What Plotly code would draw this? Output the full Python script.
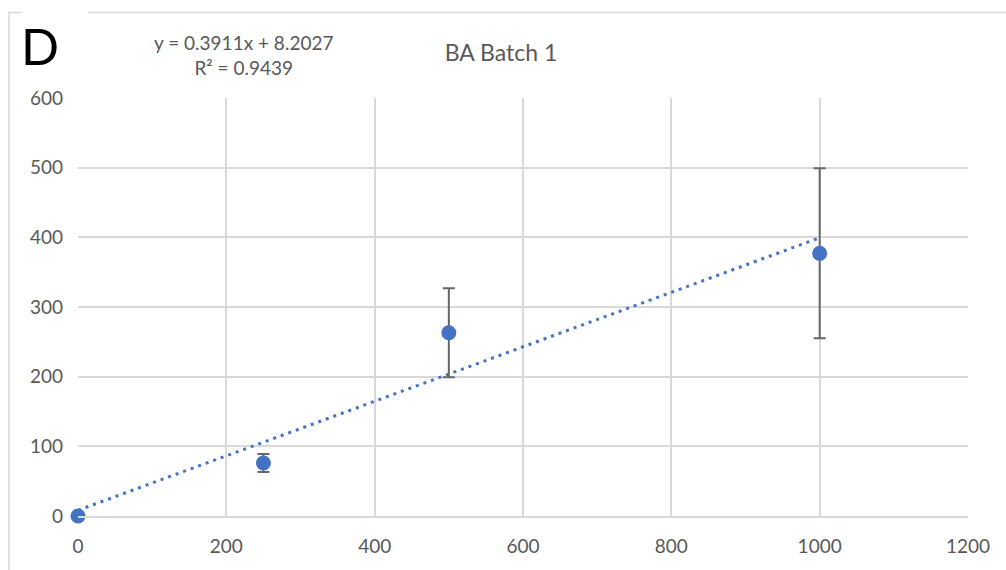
import plotly.graph_objects as go

# data
conc = [0, 250, 500, 1000]
response = [0, 76, 263, 377]
err = [0, 13, 64, 122]
slope = 0.3911
intercept = 8.2027
r2 = 0.9439
trend_x = [0, 1000]
trend_y = [slope * x + intercept for x in trend_x]

FONT = "Lato"
GRAY = "#595959"
GRID = "#d9d9d9"

fig = go.Figure()
fig.add_trace(go.Scatter(
    x=trend_x, y=trend_y, mode="lines",
    line=dict(color="#4472C4", width=3, dash="3px,5px"),
    showlegend=False, hoverinfo="skip"))
fig.add_trace(go.Scatter(
    x=conc, y=response, mode="markers", cliponaxis=False,
    marker=dict(color="#4472C4", size=15),
    error_y=dict(type="data", array=err, visible=True, color="#666666",
                 thickness=2, width=6),
    showlegend=False))

L, R, T, B = 78, 38, 98, 54
W, H = 1006, 570
pw, ph = W - L - R, H - T - B

def px_x(px):
    return (px - L) / pw

def px_y(py):
    return (H - B - py) / ph

fig.update_layout(
    width=W, height=H,
    margin=dict(l=L, r=R, t=T, b=B),
    paper_bgcolor="white", plot_bgcolor="white",
    font=dict(family=FONT, color=GRAY, size=19),
    title=dict(text="BA Batch 1", x=501 / W, xanchor="center",
               y=1 - 53 / H, yanchor="middle",
               font=dict(family=FONT, size=23, color=GRAY)),
    xaxis=dict(range=[0, 1200], dtick=200, showgrid=True, gridcolor=GRID,
               gridwidth=1.5, zeroline=False, showline=True, linecolor=GRID,
               linewidth=1.5, ticks="", ticklabelstandoff=12,
               tickfont=dict(family=FONT, size=19, color=GRAY)),
    yaxis=dict(range=[0, 600], dtick=100, showgrid=True, gridcolor=GRID,
               gridwidth=1.5, zeroline=False, showline=False, ticks="",
               ticklabelstandoff=14,
               tickfont=dict(family=FONT, size=19, color=GRAY)),
    annotations=[
        dict(text="D", xref="paper", yref="paper", x=px_x(19), y=px_y(46),
             xanchor="left", yanchor="middle", showarrow=False,
             font=dict(family=FONT, size=50, color="black")),
        dict(text=f"y = {slope}x + {intercept}<br>R² = {r2}", xref="paper",
             yref="paper", x=px_x(243), y=px_y(55), xanchor="center",
             yanchor="middle", showarrow=False, align="center",
             font=dict(family=FONT, size=19, color=GRAY)),
    ],
    shapes=[
        dict(type="line", xref="paper", yref="paper", x0=px_x(9), x1=px_x(9),
             y0=px_y(12), y1=px_y(575), line=dict(color=GRID, width=1.5)),
        dict(type="line", xref="paper", yref="paper", x0=px_x(8), x1=px_x(22),
             y0=px_y(12.5), y1=px_y(12.5), line=dict(color=GRID, width=1.5)),
        dict(type="line", xref="paper", yref="paper", x0=px_x(88), x1=px_x(1010),
             y0=px_y(12.5), y1=px_y(12.5), line=dict(color=GRID, width=1.5)),
    ],
)

fig.write_html("out.html")
